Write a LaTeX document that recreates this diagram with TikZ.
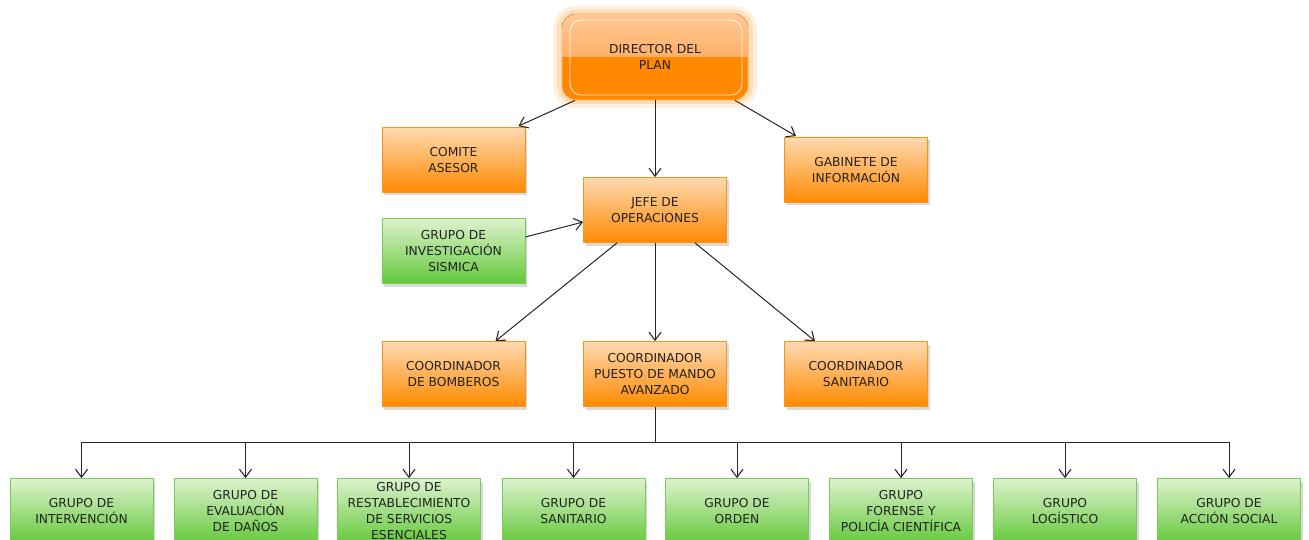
\documentclass[tikz,border=0pt]{standalone}
\usepackage{fontspec}
\setmainfont{DejaVu Sans}
\usetikzlibrary{arrows.meta,shadows,calc}
\definecolor{obord}{HTML}{F7941D}
\definecolor{otop}{HTML}{FFD9B0}
\definecolor{obot}{HTML}{FF8A00}
\definecolor{gbord}{HTML}{7CCB5A}
\definecolor{gtop}{HTML}{DDF2CE}
\definecolor{gbot}{HTML}{63C93A}
\definecolor{txt}{HTML}{222222}
\definecolor{dlight}{HTML}{FFB06A}
\definecolor{ddark}{HTML}{FF8800}
\tikzset{
  boxbase/.style={rectangle, minimum width=143pt, minimum height=65pt, inner sep=0pt,
    text=txt, align=center, font=\fontsize{12.3}{16}\selectfont, line width=0.8pt,
    drop shadow={shadow xshift=2pt, shadow yshift=-3pt, opacity=0.25, fill=black!60}},
  orangebox/.style={boxbase, draw=obord, top color=otop, bottom color=obot},
  greenbox/.style={boxbase, draw=gbord, top color=gtop, bottom color=gbot},
  conn/.style={draw=black!85, line width=1pt},
  arr/.style={conn, -{Straight Barb[length=8pt,width=12pt,line width=1.1pt]}}
}
\begin{document}
\begin{tikzpicture}[x=1pt,y=-1pt]
\useasboundingbox (0,0) rectangle (1309,540);
% director glow
\fill[ddark, opacity=0.12, rounded corners=22pt] (553,6) rectangle (757,108);
\fill[ddark, opacity=0.18, rounded corners=18pt] (557,10) rectangle (753,104);
\node[rounded corners=14pt, minimum width=186pt, minimum height=86pt, inner sep=0pt,
  fill=ddark, draw=dlight, line width=0.8pt] (dir) at (655,57) {};
\begin{scope}
  \clip[rounded corners=14pt] (562,14) rectangle (748,100);
  \fill[top color=otop!60!dlight, bottom color=dlight] (562,14) rectangle (748,57);
\end{scope}
\draw[white, opacity=0.8, line width=0.8pt, rounded corners=11pt] (570,20) rectangle (742,95);
\node[text=txt, align=center, font=\fontsize{12.3}{16}\selectfont] (dirtext) at (655,57) {DIRECTOR DEL\\PLAN};

\node[orangebox] (comite) at (453.5,160) {COMITE\\ASESOR};
\node[orangebox] (gabinete) at (856,170) {GABINETE DE\\INFORMACIÓN};
\node[orangebox] (jefe) at (655,210) {JEFE DE\\OPERACIONES};
\node[greenbox] (invest) at (453.5,251) {GRUPO DE\\INVESTIGACIÓN\\SISMICA};
\node[orangebox] (bomb) at (453.5,374) {COORDINADOR\\DE BOMBEROS};
\node[orangebox] (pma) at (655,374) {COORDINADOR\\PUESTO DE MANDO\\AVANZADO};
\node[orangebox] (sanit) at (856,374) {COORDINADOR\\SANITARIO};

\node[greenbox] (g1) at (81.5,511) {GRUPO DE\\INTERVENCIÓN};
\node[greenbox] (g2) at (245.5,511) {GRUPO DE\\EVALUACIÓN\\DE DAÑOS};
\node[greenbox] (g3) at (409,511) {GRUPO DE\\RESTABLECIMIENTO\\DE SERVICIOS\\ESENCIALES};
\node[greenbox] (g4) at (573.5,511) {GRUPO DE\\SANITARIO};
\node[greenbox] (g5) at (737,511) {GRUPO DE\\ORDEN};
\node[greenbox] (g6) at (901,511) {GRUPO\\FORENSE Y\\POLICÍA CIENTÍFICA};
\node[greenbox] (g7) at (1065,511) {GRUPO\\LOGÍSTICO};
\node[greenbox] (g8) at (1229,511) {GRUPO DE\\ACCIÓN SOCIAL};

% connectors
\draw[arr] ([xshift=-80pt]dir.south) -- ([xshift=-7pt,yshift=1pt]comite.north east);
\draw[arr] ([xshift=80pt]dir.south) -- ([xshift=12pt,yshift=1pt]gabinete.north west);
\draw[arr] (dir.south) -- (jefe.north);
\draw[arr] ([yshift=14pt]invest.east) -- ([yshift=-12pt]jefe.west);
\draw[arr] ([xshift=-38pt]jefe.south) -- ([xshift=42pt]bomb.north);
\draw[arr] (jefe.south) -- (pma.north);
\draw[arr] ([xshift=40pt]jefe.south) -- ([xshift=-41pt]sanit.north);

\coordinate (bus) at (655,442);
\draw[conn] (pma.south) -- (bus);
\draw[conn] (g1.north |- bus) -- (g8.north |- bus);
\foreach \g in {g1,g2,g3,g4,g5,g6,g7,g8}{
  \draw[arr] (\g.north |- bus) -- (\g.north);
}
\end{tikzpicture}
\end{document}
